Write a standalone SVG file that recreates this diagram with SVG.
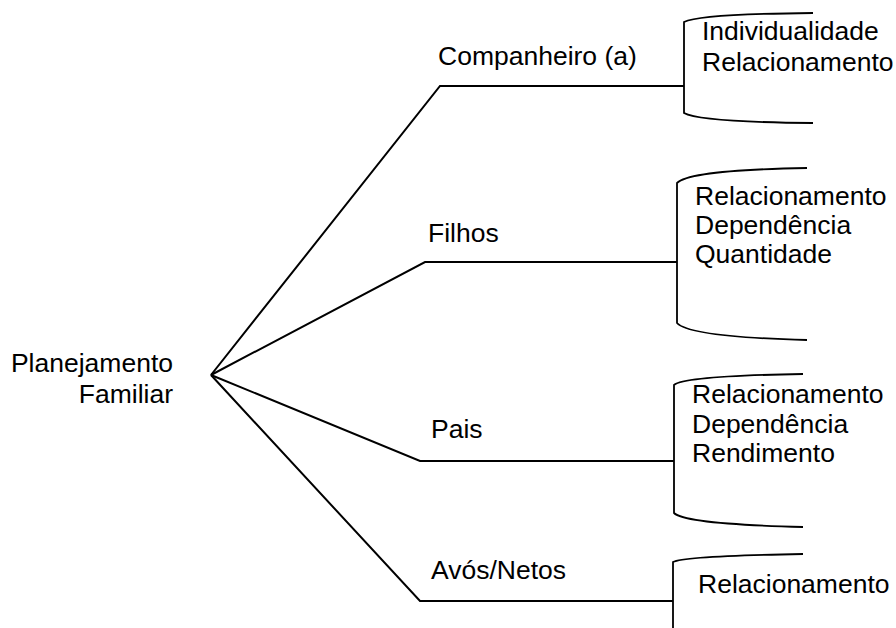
<svg xmlns="http://www.w3.org/2000/svg" width="896" height="628" viewBox="0 0 896 628">
  <style>
    text { font-family: "Liberation Sans", Arial, sans-serif; font-size: 26.5px; fill: #000; }
    .ln { fill: none; stroke: #000; stroke-width: 2; }
    .br { fill: none; stroke: #000; stroke-width: 1.8; }
  </style>
  <rect width="896" height="628" fill="#fff"/>

  <!-- root -->
  <g id="root">
    <text x="173" y="372" text-anchor="end">Planejamento</text>
    <text x="173" y="403" text-anchor="end">Familiar</text>
  </g>

  <!-- branches from root to each bracket -->
  <g id="connectors">
    <polyline class="ln" points="211,375 440,86 684,86"/>
    <polyline class="ln" points="211,375 425,262 677,262"/>
    <polyline class="ln" points="211,375 420,461 674,461"/>
    <polyline class="ln" points="211,375 420,601 673,601"/>
  </g>

  <g id="companheiro">
    <text x="438" y="65">Companheiro (a)</text>
    <path class="br" d="M813,13 Q700,14 684,22 V113 Q700,122 813,123"/>
    <text x="702" y="40">Individualidade</text>
    <text x="702" y="71">Relacionamento</text>
  </g>

  <g id="filhos">
    <text x="428" y="242">Filhos</text>
    <path class="br" d="M807,168 Q690,170 677,183 V323 Q690,337 807,340"/>
    <text x="695" y="205">Relacionamento</text>
    <text x="695" y="234">Dependência</text>
    <text x="695" y="263">Quantidade</text>
  </g>

  <g id="pais">
    <text x="431" y="438">Pais</text>
    <path class="br" d="M803,374 Q685,376 674,385 V513 Q685,524 803,527"/>
    <text x="692" y="403">Relacionamento</text>
    <text x="692" y="433">Dependência</text>
    <text x="692" y="462">Rendimento</text>
  </g>

  <g id="avos-netos">
    <text x="431" y="579">Avós/Netos</text>
    <path class="br" d="M803,554 Q684,556 673,562 V628"/>
    <text x="698" y="593">Relacionamento</text>
  </g>
</svg>
